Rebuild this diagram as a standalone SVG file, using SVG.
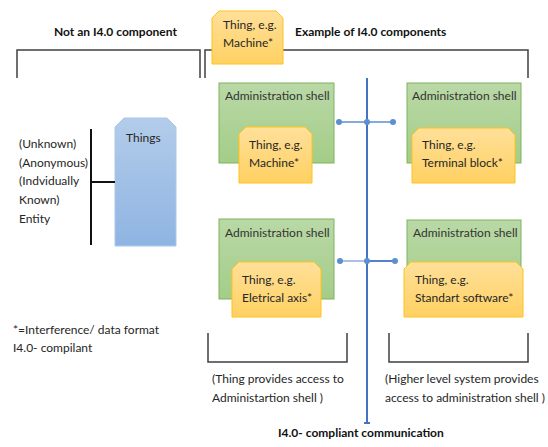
<svg xmlns="http://www.w3.org/2000/svg" width="548" height="447" viewBox="0 0 548 447">
  <defs>
    <linearGradient id="gGreen" x1="0" y1="0" x2="0" y2="1">
      <stop offset="0" stop-color="#b9d8a6"/>
      <stop offset="1" stop-color="#a4cd88"/>
    </linearGradient>
    <linearGradient id="gOrange" x1="0" y1="0" x2="0" y2="1">
      <stop offset="0" stop-color="#ffe09a"/>
      <stop offset="1" stop-color="#ffd162"/>
    </linearGradient>
    <linearGradient id="gBlue" x1="0" y1="0" x2="0" y2="1">
      <stop offset="0" stop-color="#b3ccea"/>
      <stop offset="1" stop-color="#8fb4e2"/>
    </linearGradient>
  </defs>
  <style>
    text { font-family: Lato, "Liberation Sans", sans-serif; font-size: 12px; fill: #262626; }
    .bold { font-weight: bold; fill: #111; }
    .shell rect { fill: url(#gGreen); stroke: #7db35c; stroke-width: 1; }
    .shell text { fill: #333; }
    .thing polygon { fill: url(#gOrange); stroke: #ffc21a; stroke-width: 1; }
    .bracket { fill: none; stroke: #404040; stroke-width: 1.5; }
    .bus { stroke: #4472c4; stroke-width: 2; fill: none; }
    .dot { fill: #5b8fd0; }
  </style>

  <!-- headings and brackets -->
  <g id="headings">
    <text class="bold" x="54" y="36">Not an I4.0 component</text>
    <text class="bold" x="295" y="36">Example of I4.0 components</text>
    <path class="bracket" d="M17,78 V50 H200 V78"/>
    <path class="bracket" d="M205,78 V50 H528 V78"/>
    <path class="bracket" d="M208,333 V362 H347 V333"/>
    <path class="bracket" d="M389,333 V362 H528 V333"/>
  </g>

  <!-- legend thing at the top -->
  <g id="thing-top" class="thing">
    <polygon points="219,11 276,11 283,18 283,64 212,64 212,18"/>
    <text x="223" y="29">Thing, e.g.</text>
    <text x="223" y="47">Machine*</text>
  </g>

  <!-- left side: non-I4.0 things -->
  <g id="entity">
    <text x="19" y="148">(Unknown)</text>
    <text x="19" y="167">(Anonymous)</text>
    <text x="19" y="185">(Indvidually</text>
    <text x="19" y="204">Known)</text>
    <text x="19" y="223">Entity</text>
  </g>
  <g id="things">
    <polygon points="124,118 167,118 176,127 176,246 115,246 115,127" fill="url(#gBlue)" stroke="#a9c8ec" stroke-width="1"/>
    <text x="126" y="142">Things</text>
  </g>

  <!-- connectors -->
  <g id="connectors">
    <path d="M91,129 V245 M91,182 H115" stroke="#111" stroke-width="2" fill="none"/>
    <path class="bus" d="M367,78 V423 M364,423 H370"/>
    <path d="M339,122 H393" stroke="#5b8fd0" stroke-width="1.5"/>
    <path d="M340,261 H367" stroke="#8eaedd" stroke-width="1.5"/>
    <path d="M367,261 H395" stroke="#4472c4" stroke-width="1.8"/>
    <circle class="dot" cx="339" cy="122" r="3"/>
    <circle class="dot" cx="367" cy="122" r="3"/>
    <circle class="dot" cx="393" cy="122" r="3"/>
    <circle class="dot" cx="340" cy="261" r="3"/>
    <circle class="dot" cx="367" cy="261" r="3"/>
    <circle class="dot" cx="395" cy="261" r="3"/>
  </g>

  <!-- administration shells with their things -->
  <g id="shell-machine" class="shell">
    <rect x="219" y="83" width="115" height="80"/>
    <text x="225" y="100">Administration shell</text>
  </g>
  <g id="thing-machine" class="thing">
    <polygon points="246,127 305,127 312,134 312,183 239,183 239,134"/>
    <text x="249" y="149">Thing, e.g.</text>
    <text x="249" y="167">Machine*</text>
  </g>

  <g id="shell-terminal" class="shell">
    <rect x="407" y="83" width="114" height="80"/>
    <text x="412" y="100">Administration shell</text>
  </g>
  <g id="thing-terminal" class="thing">
    <polygon points="419,128 508,128 515,135 515,183 412,183 412,135"/>
    <text x="422" y="149">Thing, e.g.</text>
    <text x="422" y="167">Terminal block*</text>
  </g>

  <g id="shell-axis" class="shell">
    <rect x="219" y="219" width="115" height="80"/>
    <text x="225" y="237">Administration shell</text>
  </g>
  <g id="thing-axis" class="thing">
    <polygon points="239,262 314,262 321,269 321,317 232,317 232,269"/>
    <text x="242" y="284">Thing, e.g.</text>
    <text x="242" y="302">Eletrical axis*</text>
  </g>

  <g id="shell-software" class="shell">
    <rect x="407" y="220" width="114" height="79"/>
    <text x="413" y="237">Administration shell</text>
  </g>
  <g id="thing-software" class="thing">
    <polygon points="411,262 516,262 523,269 523,317 404,317 404,269"/>
    <text x="415" y="284">Thing, e.g.</text>
    <text x="415" y="302">Standart software*</text>
  </g>

  <!-- notes -->
  <g id="notes">
    <text x="13" y="334">*=Interference/ data format</text>
    <text x="13" y="352">I4.0- compilant</text>
    <text x="212" y="383">(Thing provides access to</text>
    <text x="212" y="402">Administartion shell )</text>
    <text x="385" y="383">(Higher level system provides</text>
    <text x="385" y="402">access to administration shell )</text>
    <text class="bold" x="278" y="437">I4.0- compliant communication</text>
  </g>
</svg>
